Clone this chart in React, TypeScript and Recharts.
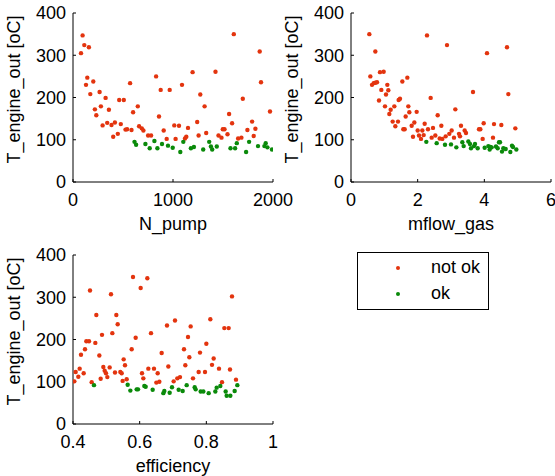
import { Scatter, ScatterChart, XAxis, YAxis } from "recharts";

// [x, T_engine_out] pairs
const pumpNotOk = [
  [80, 305], [96, 347], [113, 324], [159, 319], [143, 247], [130, 230], [173, 208],
  [203, 238], [219, 172], [233, 158], [266, 213], [279, 179], [296, 134], [326, 199],
  [342, 140], [359, 171], [385, 135], [402, 107], [419, 141], [448, 114], [462, 194],
  [478, 137], [508, 194], [525, 124], [541, 125], [571, 234], [585, 123], [601, 165],
  [648, 179], [661, 132], [688, 127], [704, 122], [751, 110], [781, 110], [831, 250],
  [860, 155], [877, 218], [907, 122], [937, 102], [967, 218], [1013, 134], [1026, 102],
  [1060, 133], [1090, 230], [1120, 103], [1133, 107], [1150, 128], [1196, 260],
  [1256, 110], [1242, 142], [1273, 207], [1316, 179], [1332, 116], [1425, 261],
  [1455, 110], [1485, 105], [1498, 125], [1515, 125], [1545, 113], [1561, 161],
  [1591, 139], [1608, 350], [1651, 103], [1684, 105], [1698, 197], [1744, 123],
  [1791, 143], [1807, 109], [1824, 126], [1867, 309], [1880, 236], [1970, 167],
];
const pumpOk = [
  [615, 95], [631, 88], [724, 90], [767, 80], [814, 97], [844, 80], [890, 90], [950, 86],
  [997, 81], [1073, 71], [1103, 95], [1179, 80], [1209, 83], [1302, 77], [1362, 95],
  [1379, 84], [1392, 77], [1438, 84], [1575, 80], [1621, 80], [1638, 92], [1731, 71],
  [1761, 95], [1850, 85], [1914, 85], [1927, 92], [1944, 82], [1990, 77],
];

const gasNotOk = [
  [0.55, 350], [0.58, 250], [0.63, 230], [0.68, 234], [0.73, 309], [0.73, 235], [0.78, 236],
  [0.84, 193], [0.87, 260], [0.91, 218], [0.98, 261], [1.02, 179], [1.05, 207], [1.09, 230],
  [1.12, 217], [1.15, 161], [1.19, 171], [1.25, 143], [1.3, 179], [1.33, 132], [1.41, 143],
  [1.43, 194], [1.47, 197], [1.54, 238], [1.57, 125], [1.61, 125], [1.64, 155], [1.69, 247],
  [1.72, 179], [1.75, 165], [1.82, 133], [1.86, 107], [1.9, 141], [1.97, 166], [2.0, 122],
  [2.04, 110], [2.1, 102], [2.14, 122], [2.18, 111], [2.21, 138], [2.28, 347], [2.31, 125],
  [2.39, 199], [2.42, 105], [2.46, 128], [2.53, 110], [2.6, 158], [2.66, 103], [2.71, 133],
  [2.74, 102], [2.84, 108], [2.88, 324], [2.95, 114], [3.02, 122], [3.09, 105], [3.13, 172],
  [3.24, 114], [3.27, 108], [3.3, 133], [3.41, 122], [3.45, 116], [3.66, 213], [3.84, 125],
  [3.88, 125], [3.95, 102], [3.98, 139], [4.08, 305], [4.26, 105], [4.29, 137], [4.51, 135],
  [4.68, 319], [4.72, 208], [4.93, 127],
];
const gasOk = [
  [2.26, 95], [2.57, 92], [2.82, 88], [3.0, 89], [3.16, 82], [3.34, 94], [3.38, 85],
  [3.52, 96], [3.57, 90], [3.6, 80], [3.69, 85], [3.72, 90], [3.8, 80], [4.01, 81],
  [4.12, 85], [4.16, 77], [4.18, 83], [4.22, 82], [4.35, 84], [4.4, 80], [4.44, 94],
  [4.47, 94], [4.53, 72], [4.57, 80], [4.64, 78], [4.78, 71], [4.83, 86], [4.86, 83],
  [4.96, 77],
];

const effNotOk = [
  [0.404, 101], [0.408, 123], [0.416, 112], [0.42, 131], [0.424, 164], [0.432, 120],
  [0.436, 177], [0.44, 196], [0.448, 196], [0.451, 316], [0.456, 99], [0.467, 192],
  [0.47, 258], [0.479, 162], [0.483, 107], [0.487, 211], [0.491, 135], [0.495, 126],
  [0.499, 120], [0.503, 111], [0.51, 134], [0.514, 307], [0.518, 215], [0.526, 122],
  [0.53, 258], [0.534, 236], [0.542, 123], [0.546, 120], [0.549, 102], [0.552, 153],
  [0.556, 139], [0.561, 106], [0.576, 177], [0.58, 348], [0.588, 204], [0.603, 322],
  [0.607, 120], [0.611, 108], [0.623, 345], [0.626, 131], [0.634, 215], [0.643, 131],
  [0.65, 98], [0.654, 120], [0.659, 100], [0.666, 168], [0.682, 233], [0.686, 136],
  [0.702, 101], [0.706, 245], [0.713, 108], [0.721, 111], [0.733, 177], [0.737, 139],
  [0.745, 206], [0.749, 158], [0.753, 231], [0.76, 108], [0.777, 123], [0.781, 169],
  [0.796, 123], [0.8, 190], [0.812, 248], [0.817, 140], [0.822, 155], [0.838, 131],
  [0.847, 99], [0.854, 227], [0.867, 227], [0.871, 129], [0.877, 302], [0.889, 105],
];
const effOk = [
  [0.463, 92], [0.564, 93], [0.572, 79], [0.591, 82], [0.595, 82], [0.614, 90], [0.618, 88],
  [0.639, 81], [0.671, 73], [0.674, 78], [0.69, 74], [0.697, 87], [0.717, 81], [0.729, 78],
  [0.741, 92], [0.765, 87], [0.768, 82], [0.783, 77], [0.791, 77], [0.807, 73], [0.827, 77],
  [0.831, 86], [0.842, 90], [0.858, 77], [0.861, 67], [0.872, 67], [0.885, 78], [0.893, 92],
];

const seriesNames = ["not ok", "ok"];
const seriesColors = ["#e3340e", "#0a8a0a"];
const yTicks = [0, 100, 200, 300, 400];
const pumpTicks = [0, 1000, 2000];
const gasTicks = [0, 2, 4, 6];
const effTicks = [0.4, 0.6, 0.8, 1];
const yLabel = "T_engine_out [oC]";

const FONT = '"Liberation Sans", Arial, sans-serif';
const FS = 18;

const toPoints = (rows: number[][]) => rows.map(([x, y]) => ({ x, y }));

const Dot = (color: string) => (props: any) =>
  <circle cx={props.cx} cy={props.cy} r={2.2} fill={color} />;

function YTitle({ viewBox }: any) {
  const cx = viewBox.x - 19;
  const cy = viewBox.y + viewBox.height / 2 - 8;
  return (
    <text
      x={0}
      y={0}
      transform={`translate(${cx}, ${cy}) rotate(-90)`}
      textAnchor="middle"
      dy="0.36em"
      fontSize={FS}
      fontFamily={FONT}
      fill="#000"
    >
      {yLabel}
    </text>
  );
}

interface PanelProps {
  left: number;
  top: number;
  width: number;
  height: number;
  xLabel: string;
  xTicks: number[];
  notOk: number[][];
  ok: number[][];
}

// plot box: 200 x 169, starting 73px from the panel's left and 13px from its top
function Panel({ left, top, width, height, xLabel, xTicks, notOk, ok }: PanelProps) {
  const tickStyle = { fontSize: FS, fontFamily: FONT, fill: "#000" };
  const domain: [number, number] = [xTicks[0], xTicks[xTicks.length - 1]];
  return (
    <div style={{ position: "absolute", left, top, width, height }}>
      <ScatterChart
        width={width}
        height={height}
        margin={{ top: 13, right: width - 273, bottom: height - 13 - 169 - 28, left: 33 }}
      >
        <XAxis
          xAxisId={0}
          type="number"
          dataKey="x"
          domain={domain}
          ticks={xTicks}
          interval={0}
          height={28}
          tickSize={-3}
          tickMargin={14}
          stroke="#000"
          tick={tickStyle}
          allowDataOverflow
          label={{
            value: xLabel,
            position: "bottom",
            offset: 7,
            style: { fontSize: FS, fontFamily: FONT, fill: "#000" },
          }}
        />
        <XAxis
          xAxisId="top"
          orientation="top"
          type="number"
          domain={domain}
          ticks={xTicks}
          height={0}
          tickSize={-3}
          tick={false}
          stroke="#000"
          allowDataOverflow
        />
        <YAxis
          yAxisId={0}
          type="number"
          dataKey="y"
          domain={[0, 400]}
          ticks={yTicks}
          interval={0}
          width={40}
          tickSize={-3}
          tickMargin={10}
          stroke="#000"
          tick={tickStyle}
          allowDataOverflow
          label={(p: any) => <YTitle {...p} />}
        />
        <YAxis
          yAxisId="right"
          orientation="right"
          type="number"
          domain={[0, 400]}
          ticks={yTicks}
          width={0}
          tickSize={-3}
          tick={false}
          stroke="#000"
          allowDataOverflow
        />
        <Scatter
          name={seriesNames[0]}
          data={toPoints(notOk)}
          shape={Dot(seriesColors[0])}
          isAnimationActive={false}
        />
        <Scatter
          name={seriesNames[1]}
          data={toPoints(ok)}
          shape={Dot(seriesColors[1])}
          isAnimationActive={false}
        />
      </ScatterChart>
    </div>
  );
}

function LegendBox() {
  return (
    <div
      style={{
        position: "absolute",
        left: 357,
        top: 252,
        width: 130,
        height: 56,
        border: "1px solid #000",
        background: "#fff",
        fontFamily: FONT,
        fontSize: FS,
      }}
    >
      {seriesNames.map((name, i) => (
        <div
          key={name}
          style={{ position: "absolute", left: 0, top: 2 + i * 26, height: 24, width: 130 }}
        >
          <span
            style={{
              position: "absolute",
              left: 38,
              top: 11,
              width: 4,
              height: 4,
              borderRadius: 2,
              background: seriesColors[i],
            }}
          />
          <span style={{ position: "absolute", left: 73, top: 2, lineHeight: "20px" }}>
            {name}
          </span>
        </div>
      ))}
    </div>
  );
}

export default function App() {
  return (
    <div
      style={{
        position: "absolute",
        left: 0,
        top: 0,
        width: 555,
        height: 476,
        background: "#fff",
        overflow: "hidden",
      }}
    >
      <Panel left={0} top={0} width={310} height={240} xLabel="N_pump" xTicks={pumpTicks} notOk={pumpNotOk} ok={pumpOk} />
      <Panel left={278} top={0} width={277} height={240} xLabel="mflow_gas" xTicks={gasTicks} notOk={gasNotOk} ok={gasOk} />
      <Panel left={0} top={242} width={310} height={234} xLabel="efficiency" xTicks={effTicks} notOk={effNotOk} ok={effOk} />
      <LegendBox />
    </div>
  );
}
